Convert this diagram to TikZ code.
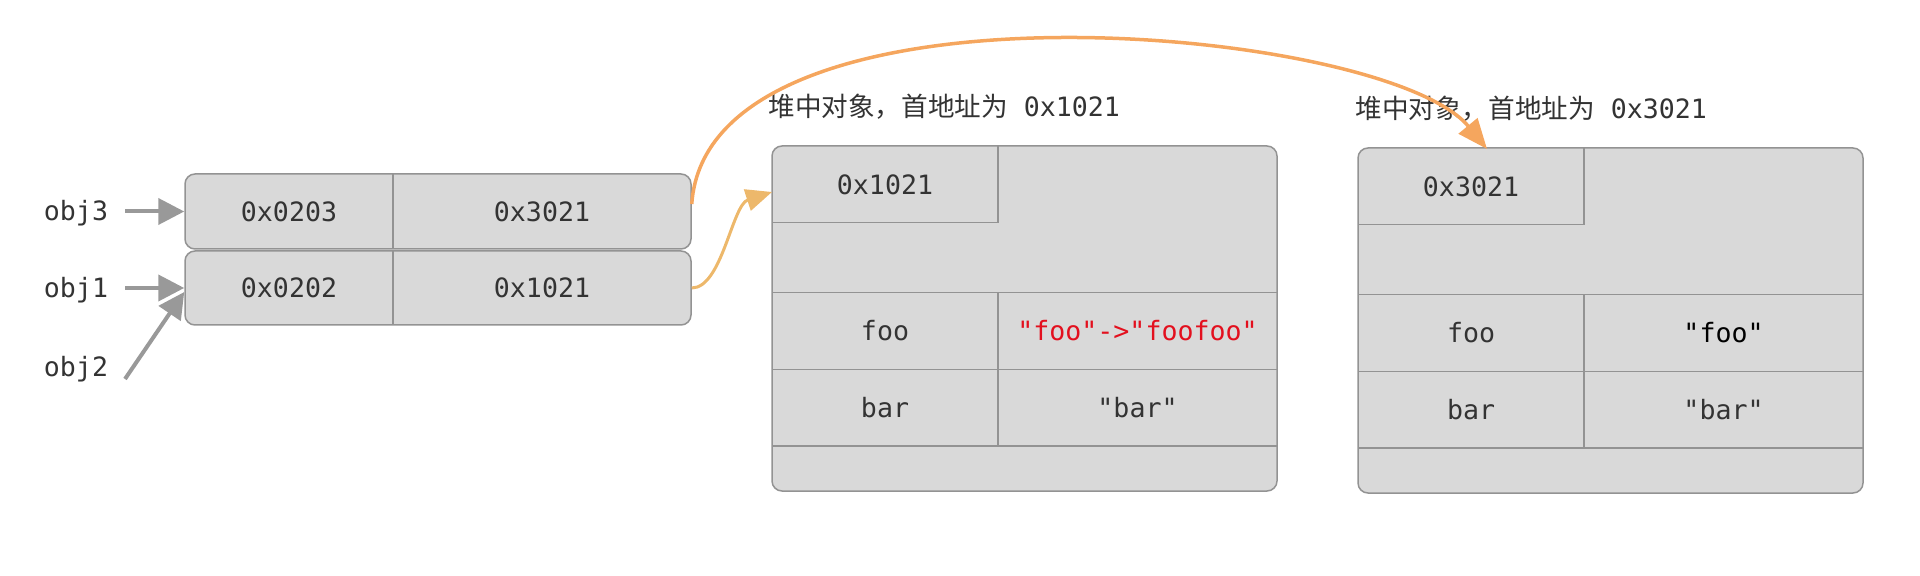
\documentclass[tikz,border=0pt]{standalone}
\usepackage{fontspec}
\newfontfamily\mono{DejaVu Sans Mono}
\newfontfamily\cjk{Noto Sans CJK SC}
\usetikzlibrary{arrows.meta}
\definecolor{boxfill}{HTML}{D9D9D9}
\definecolor{boxline}{HTML}{939393}
\definecolor{txt}{HTML}{333333}
\definecolor{redtxt}{HTML}{E3101E}
\definecolor{org}{HTML}{F5A65E}
\definecolor{gold}{HTML}{EDB86B}
\definecolor{grayarr}{HTML}{999999}
\begin{document}
\begin{tikzpicture}[x=0.5pt,y=-0.5pt,
  rbox/.style={draw=boxline, fill=boxfill, line width=0.75pt, rounded corners=5pt, rectangle, inner sep=0pt},
  cellline/.style={draw=boxline, line width=0.75pt},
  lbl/.style={font=\mono\fontsize{13.3}{16}\selectfont, text=txt, anchor=base, inner sep=0pt},
  redlbl/.style={lbl, text=redtxt},
  blklbl/.style={lbl, text=black},
  hdr/.style={font=\fontsize{13.3}{16}\selectfont, text=txt, anchor=base west, inner sep=0pt},
  garrow/.style={draw=grayarr, line width=2pt, -{Triangle[length=13pt,width=13pt]}},
  goldarrow/.style={draw=gold, line width=1.5pt, -{Triangle[length=13pt,width=11pt]}},
  orgarrow/.style={draw=org, line width=1.75pt, -{Triangle[length=15pt,width=12pt]}}
]
\useasboundingbox (0,0) rectangle (1920,576);

% pointer table
\node[rbox, minimum width=253pt, minimum height=37.5pt] (ptrA) at (438,211.5) {};
\node[rbox, minimum width=253pt, minimum height=37pt] (ptrB) at (438,288) {};
\draw[cellline] (393,174) -- (393,249);
\draw[cellline] (393,251) -- (393,325);
\node[lbl] (pa1) at (289,221.5) {0x0203};
\node[lbl] (pa2) at (542,221.5) {0x3021};
\node[lbl] (pb1) at (289,298) {0x0202};
\node[lbl] (pb2) at (542,298) {0x1021};

% variable labels
\node[lbl] (obj3) at (76,221) {obj3};
\node[lbl] (obj1) at (76,298) {obj1};
\node[lbl] (obj2) at (76,377) {obj2};
\coordinate (s3) at (125,211.5);
\coordinate (s1) at (125,288);
\coordinate (s2) at (125,379);
\draw[garrow] (s3) -- (ptrA.west);
\draw[garrow] (s1) -- (ptrB.west);
\draw[garrow] (s2) -- ([yshift=-2pt]ptrB.west);

% heap object A
\node[rbox, minimum width=252.5pt, minimum height=172.5pt] (heapA) at (1024.5,318.5) {};
\draw[cellline] (772,222.7) -- (998,222.7) -- (998,146);
\draw[cellline] (772,292.7) -- (1277,292.7);
\draw[cellline] (772,369.3) -- (1277,369.3);
\draw[cellline] (772,446) -- (1277,446);
\draw[cellline] (998,292.7) -- (998,446);
\node[lbl] (a0) at (885,194.5) {0x1021};
\node[lbl] (a1) at (885,341) {foo};
\node[redlbl] (a2) at (1137.5,341) {"foo"->"foofoo"};
\node[lbl] (a3) at (885,417.7) {bar};
\node[lbl] (a4) at (1137.5,417.7) {"bar"};
\node[hdr] (ha) at (768,117) {{\cjk 堆中对象，首地址为}\mono\ 0x1021};

% heap object B
\node[rbox, minimum width=252.5pt, minimum height=172.5pt] (heapB) at (1610.5,320.5) {};
\draw[cellline] (1358,224.7) -- (1584,224.7) -- (1584,148);
\draw[cellline] (1358,294.7) -- (1863,294.7);
\draw[cellline] (1358,371.3) -- (1863,371.3);
\draw[cellline] (1358,448) -- (1863,448);
\draw[cellline] (1584,294.7) -- (1584,448);
\node[lbl] (b0) at (1471,196.5) {0x3021};
\node[lbl] (b1) at (1471,343) {foo};
\node[blklbl] (b2) at (1723.5,343) {"foo"};
\node[lbl] (b3) at (1471,419.7) {bar};
\node[lbl] (b4) at (1723.5,419.7) {"bar"};
\node[hdr] (hb) at (1355,119) {{\cjk 堆中对象，首地址为}\mono\ 0x3021};

% reference arrows
\coordinate (tipA) at (772,192);
\coordinate (tipB) at (1487,149);
\draw[goldarrow] (ptrB.east) .. controls (722,288) and (732,205) .. (tipA);
\draw[orgarrow] ([yshift=3.75pt]ptrA.east) .. controls (708,-35) and (1385,25) .. (tipB);
\end{tikzpicture}
\end{document}
